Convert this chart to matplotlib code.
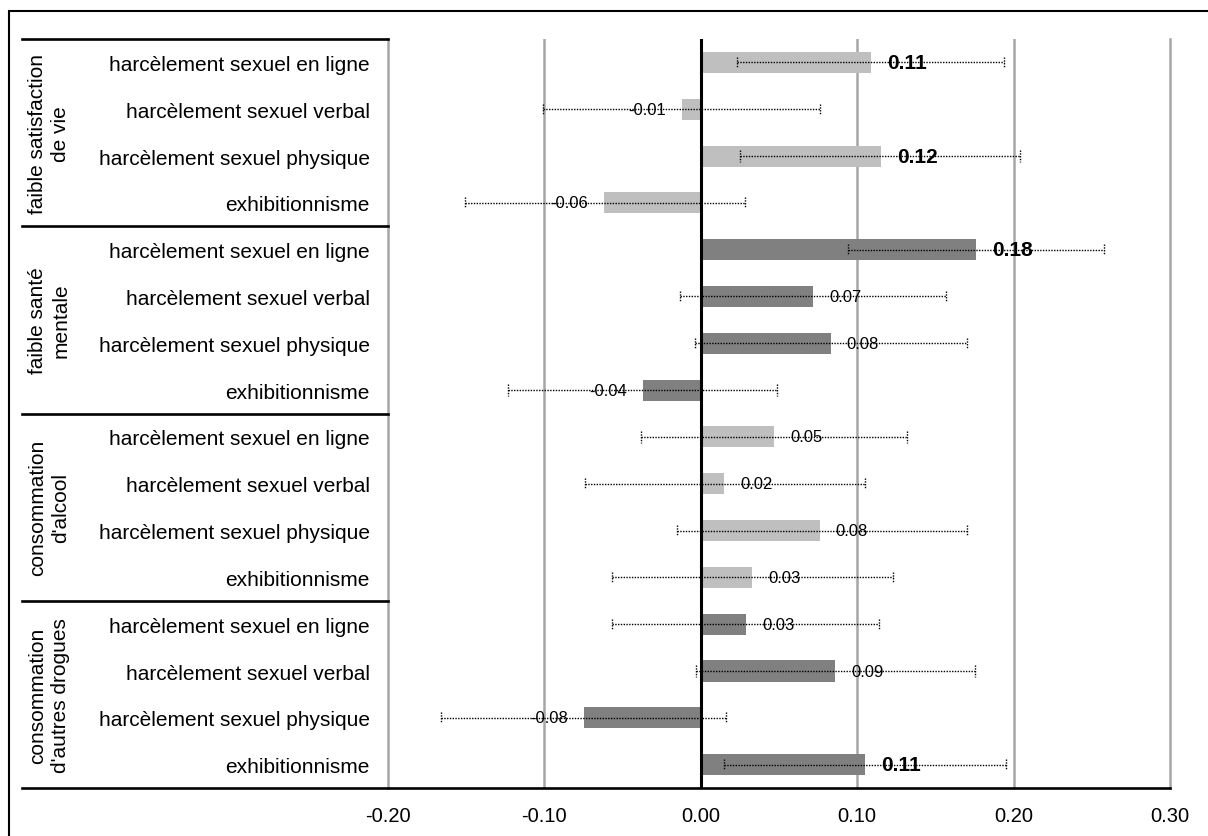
import numpy as np
import matplotlib
matplotlib.use("Agg")
import matplotlib.pyplot as plt
from matplotlib.patches import Rectangle

plt.rcParams['font.family'] = ['Liberation Sans', 'DejaVu Sans']

# groups (rotated labels on the left) and the four items in each group
groups = ["faible satisfaction\nde vie", "faible santé\nmentale",
          "consommation\nd'alcool", "consommation\nd'autres drogues"]
items = ["harcèlement sexuel en ligne", "harcèlement sexuel verbal",
         "harcèlement sexuel physique", "exhibitionnisme"]

# estimates and confidence intervals (16 rows, top to bottom)
values = [0.109, -0.012, 0.115, -0.062,
          0.176, 0.072, 0.083, -0.037,
          0.047, 0.015, 0.076, 0.033,
          0.029, 0.086, -0.075, 0.105]
ci_low = [0.023, -0.101, 0.025, -0.151,
          0.094, -0.013, -0.004, -0.123,
          -0.038, -0.074, -0.015, -0.057,
          -0.057, -0.003, -0.166, 0.015]
ci_high = [0.194, 0.076, 0.204, 0.028,
           0.258, 0.157, 0.170, 0.049,
           0.132, 0.105, 0.170, 0.123,
           0.114, 0.175, 0.016, 0.195]
labels = ["0.11", "-0.01", "0.12", "-0.06",
          "0.18", "0.07", "0.08", "-0.04",
          "0.05", "0.02", "0.08", "0.03",
          "0.03", "0.09", "-0.08", "0.11"]
significant = [True, False, True, False,
               True, False, False, False,
               False, False, False, False,
               False, False, False, True]
group_colors = ["#bfbfbf", "#808080", "#bfbfbf", "#808080"]

n_items = len(items)
n_rows = len(values)
y = np.arange(n_rows)
colors = [group_colors[i // n_items] for i in range(n_rows)]

fig = plt.figure(figsize=(12.08, 8.37), dpi=100)
ax = fig.add_axes([0.3212, 0.0573, 0.6474, 0.8949])

# gridlines behind everything
for gx in [-0.1, 0.1, 0.2]:
    ax.axvline(gx, color="#a6a6a6", lw=1.8, zorder=0)

ax.barh(y, values, height=0.45, color=colors, zorder=2)
ax.axvline(0, color="black", lw=2.2, zorder=4)

# dotted error bars with dotted caps
ax.hlines(y, ci_low, ci_high, colors="black", linestyles=(0, (1, 1)), lw=1.0, zorder=3)
ax.vlines(ci_low, y - 0.12, y + 0.12, colors="black", linestyles=(0, (1, 1)), lw=1.0, zorder=3)
ax.vlines(ci_high, y - 0.12, y + 0.12, colors="black", linestyles=(0, (1, 1)), lw=1.0, zorder=3)

# value labels just outside bar ends
for yi, v, lab, sig in zip(y, values, labels, significant):
    off = 11.5 if v >= 0 else -11.5
    ax.annotate(lab, xy=(v, yi), xytext=(off, 0), textcoords="offset points",
                ha="left" if v >= 0 else "right", va="center",
                fontsize=15 if sig else 12,
                fontweight="bold" if sig else "normal", zorder=5)

ax.set_xlim(-0.2, 0.3)
ax.set_ylim(n_rows - 0.5, -0.5)
ax.set_xticks([-0.2, -0.1, 0.0, 0.1, 0.2, 0.3])
ax.set_xticklabels(["-0.20", "-0.10", "0.00", "0.10", "0.20", "0.30"])
ax.tick_params(axis="x", length=0, pad=13, labelsize=14.5)
ax.set_yticks(y)
ax.set_yticklabels(items * len(groups))
ax.tick_params(axis="y", length=0, pad=13, labelsize=15)

ax.spines["top"].set_visible(False)
ax.spines["bottom"].set_visible(False)
for side in ["left", "right"]:
    ax.spines[side].set_color("#a6a6a6")
    ax.spines[side].set_linewidth(1.8)

# group separators and the bottom line spanning the label table
trans = ax.get_yaxis_transform()
left_x = (22 - 388) / 782
for k in range(len(groups)):
    ax.plot([left_x, 0], [k * n_items - 0.5] * 2, color="black", lw=1.9,
            transform=trans, clip_on=False, zorder=6)
ax.plot([left_x, 1], [n_rows - 0.5] * 2, color="black", lw=1.9,
        transform=trans, clip_on=False, zorder=6)

# rotated group labels
for k, g in enumerate(groups):
    ax.text(-0.4335, k * n_items + (n_items - 1) / 2, g, transform=trans,
            rotation=90, ha="center", va="center", fontsize=15, linespacing=1.3)

# outer frame (runs off the right and bottom of the picture)
fig.add_artist(Rectangle((9 / 1208, -0.2), 1.2, 0.2 + (837 - 12) / 837,
                         transform=fig.transFigure, fill=False, lw=1.5, color="black"))

fig.savefig("out.png", dpi=100)
